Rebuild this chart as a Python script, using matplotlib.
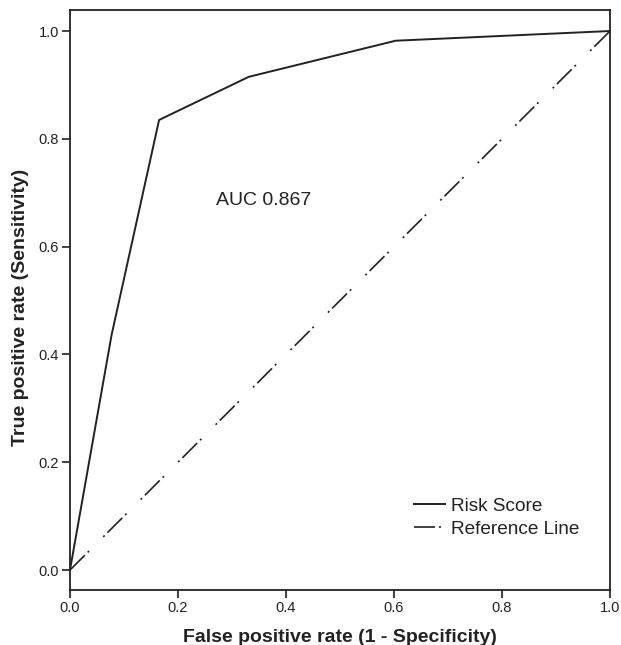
import numpy as np
import matplotlib
matplotlib.use("Agg")
import matplotlib.pyplot as plt

plt.rcParams["font.family"] = ["Liberation Sans", "DejaVu Sans"]
plt.rcParams["lines.scale_dashes"] = False

# ROC curve for the risk score
fpr = [0.0, 0.077, 0.165, 0.331, 0.603, 1.0]
tpr = [0.0, 0.436, 0.835, 0.915, 0.982, 1.0]
ref_x = [0.0, 1.0]
ref_y = [0.0, 1.0]
auc = 0.867

ink = "#222222"

fig = plt.figure(figsize=(6.21, 6.45), dpi=100)
ax = fig.add_axes([0.1127, 0.0853, 0.8696, 0.8992])

ax.plot(fpr, tpr, color=ink, lw=1.4, label="Risk Score")
ax.plot(ref_x, ref_y, color=ink, lw=1.2,
        ls=(0, (15.1, 2.9, 1.4, 14.4, 1.4, 2.9)), label="Reference Line")

ax.text(0.271, 0.686, f"AUC {auc}", fontsize=14, color=ink, va="center", ha="left")

ax.set_xlim(0, 1)
ax.set_ylim(-0.037, 1.039)
ticks = [0.0, 0.2, 0.4, 0.6, 0.8, 1.0]
ax.set_xticks(ticks)
ax.set_yticks(ticks)
ax.set_xticklabels([f"{t:.1f}" for t in ticks])
ax.set_yticklabels([f"{t:.1f}" for t in ticks])
ax.tick_params(direction="out", length=6, width=1.2, color=ink, labelcolor=ink,
               labelsize=10.5, pad=2)
for s in ax.spines.values():
    s.set_linewidth(1.3)
    s.set_color(ink)

ax.set_xlabel("False positive rate (1 - Specificity)", fontsize=14, fontweight="bold",
              color=ink)
ax.set_ylabel("True positive rate (Sensitivity)", fontsize=14, fontweight="bold",
              color=ink)
ax.xaxis.set_label_coords(0.5, -0.067)
ax.yaxis.set_label_coords(-0.076, 0.488)

ax.legend(loc="center left", bbox_to_anchor=(0.637, 0.125), frameon=False,
          fontsize=13.7, borderpad=0, borderaxespad=0, handlelength=1.65,
          handletextpad=0.32, labelspacing=0.3, labelcolor=ink)

fig.savefig("out.png", dpi=100)
